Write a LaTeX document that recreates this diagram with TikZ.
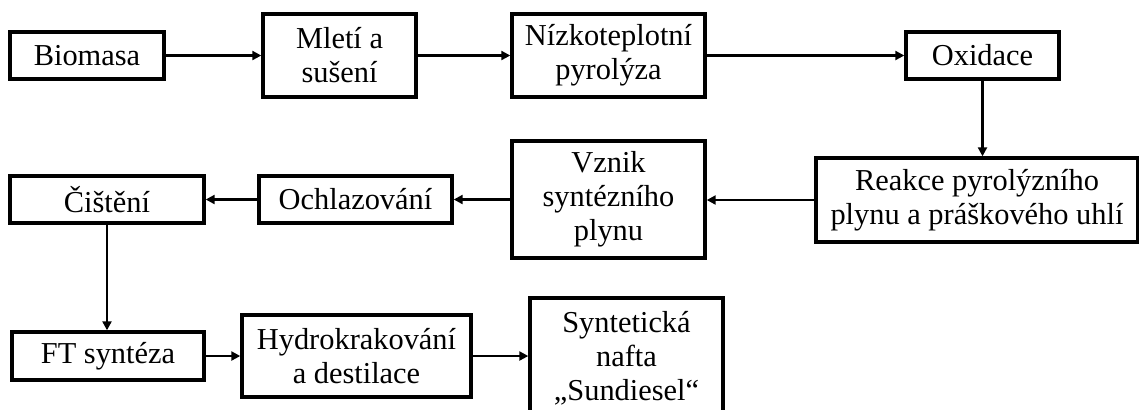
\documentclass[tikz,border=0pt]{standalone}
\usepackage{fontspec}
\setmainfont{Liberation Serif}
\usetikzlibrary{arrows.meta}
\begin{document}
\begin{tikzpicture}[x=0.5pt,y=-0.5pt,
  box/.style={draw, line width=1.7pt, inner sep=0pt, align=center,
    font=\fontsize{15.2}{17}\selectfont},
  conn/.style={line width=1.1pt, -{Triangle[length=4.5pt,width=4.5pt]}}]
\useasboundingbox (0,0) rectangle (1139,409);
\node[box, minimum width=77pt, minimum height=23.5pt] (bio) at (87,55.5) {Biomasa};
\node[box, minimum width=76.5pt, minimum height=41.5pt] (mle) at (339.5,55.5) {Mletí a\\sušení};
\node[box, minimum width=96.5pt, minimum height=41.5pt] (niz) at (608.5,55.5) {Nízkoteplotní\\pyrolýza};
\node[box, minimum width=76.5pt, minimum height=23.5pt] (oxi) at (982.5,55.5) {Oxidace};
\node[box, minimum width=161pt, minimum height=42pt] (rea) at (977,200) {Reakce pyrolýzního\\plynu a práškového uhlí};
\node[box, minimum width=96.5pt, minimum height=58.5pt] (vzn) at (608.5,199.5) {Vznik\\syntézního\\plynu};
\node[box, minimum width=96.5pt, minimum height=23.5pt] (och) at (355.5,199.5) {Ochlazování};
\node[box, minimum width=97pt, minimum height=23.5pt] (cis) at (107,199.5) {Čištění};
\node[box, minimum width=96pt, minimum height=24pt] (ft) at (108,356) {FT syntéza};
\node[box, minimum width=114.5pt, minimum height=41pt] (hyd) at (356.5,356) {Hydrokrakování\\a destilace};
\node[box, minimum width=96.5pt, minimum height=60pt] (syn) at (626.5,358) {Syntetická\\nafta\\„Sundiesel“};
\draw[conn] (bio) -- (mle);
\draw[conn] (mle) -- (niz);
\draw[conn] (niz) -- (oxi);
\draw[conn] (oxi.south) -- (oxi.south |- rea.north);
\draw[conn] (rea.west) -- (rea.west -| vzn.east);
\draw[conn] (vzn.west) -- (vzn.west -| och.east);
\draw[conn] (och) -- (cis);
\draw[conn] (cis.south) -- (cis.south |- ft.north);
\draw[conn] (ft) -- (hyd);
\draw[conn] (hyd.east) -- (hyd.east -| syn.west);
\end{tikzpicture}
\end{document}
